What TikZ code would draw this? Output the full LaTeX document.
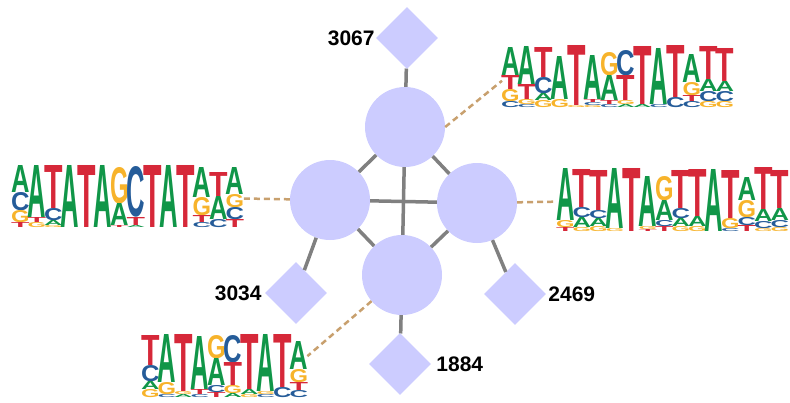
\documentclass[tikz,border=0pt]{standalone}
\usepackage{fontspec}
\setmainfont{Liberation Sans}
\usetikzlibrary{shapes.geometric,positioning}
\definecolor{ntA}{HTML}{109648}
\definecolor{ntC}{HTML}{255C99}
\definecolor{ntG}{HTML}{F7B32B}
\definecolor{ntT}{HTML}{D62839}
\definecolor{motif}{HTML}{CCCCFF}
\definecolor{link}{RGB}{200,160,110}
\newlength{\colw}
\setlength{\colw}{16.5pt}
% one letter of a logo column: letter, height
\newcommand{\nt}[2]{\hbox to \colw{\hss\resizebox{1.12\colw}{#2pt}{\textcolor{nt#1}{\bfseries #1}}\hss}}
\newcommand{\lcol}[1]{\vbox{\offinterlineskip #1}}

\tikzset{
  motifnode/.style={circle, fill=motif, minimum size=80pt, inner sep=0pt},
  sitenode/.style={diamond, fill=motif, minimum width=62pt, minimum height=62pt, inner sep=0pt},
  lbl/.style={font=\fontsize{21}{21}\selectfont\bfseries, inner sep=0pt},
  logo/.style={inner sep=0pt, anchor=south west},
  edge/.style={draw=gray, line width=3.5pt},
  link/.style={draw=link, line width=2.5pt, dash pattern=on 6pt off 4pt}
}

\begin{document}
\begin{tikzpicture}[x=1pt, y=-1pt]
\useasboundingbox (0,0) rectangle (790,402);

% motifs and sites
\node[motifnode] (ctop) at (405,127) {};
\node[motifnode] (cleft) at (330,200) {};
\node[motifnode] (cright) at (477,203) {};
\node[motifnode] (cbot) at (402,275) {};
\node[sitenode] (d3067) at (407,38) {};
\node[sitenode] (d3034) at (296,293) {};
\node[sitenode] (d2469) at (515,294) {};
\node[sitenode] (d1884) at (400,364) {};
\node[lbl, left=1pt of d3067] (t3067) {3067};
\node[lbl, left=3pt of d3034] (t3034) {3034};
\node[lbl, right=2pt of d2469] (t2469) {2469};
\node[lbl, right=5pt of d1884] (t1884) {1884};

% logos
\node[logo] (lgTR) at (502,108) {%
\lcol{\nt{A}{28}\nt{T}{14}\nt{G}{12}\nt{C}{6}}%
\lcol{\nt{A}{38}\nt{T}{15}\nt{G}{5}\nt{C}{3}}%
\lcol{\nt{T}{30}\nt{C}{16}\nt{A}{7}\nt{G}{7}}%
\lcol{\nt{A}{43}\nt{G}{8}}%
\lcol{\nt{T}{60}\nt{G}{2}}%
\lcol{\nt{A}{44}\nt{T}{3}\nt{C}{3}\nt{G}{2}}%
\lcol{\nt{G}{23}\nt{A}{25}\nt{T}{4}\nt{C}{3}}%
\lcol{\nt{C}{25}\nt{T}{25}\nt{G}{4}\nt{A}{3}}%
\lcol{\nt{T}{58}\nt{A}{3}}%
\lcol{\nt{A}{56}\nt{C}{3}}%
\lcol{\nt{T}{52}\nt{C}{10}}%
\lcol{\nt{A}{28}\nt{G}{13}\nt{T}{6}\nt{C}{6}}%
\lcol{\nt{T}{33}\nt{A}{12}\nt{C}{10}\nt{G}{6}}%
\lcol{\nt{T}{33}\nt{A}{10}\nt{C}{10}\nt{G}{6}}%
};
\node[logo] (lgL) at (12,228) {%
\lcol{\nt{A}{27}\nt{C}{18}\nt{G}{12}\nt{T}{5}}%
\lcol{\nt{A}{52}\nt{T}{5}\nt{G}{5}}%
\lcol{\nt{T}{43}\nt{C}{12}\nt{A}{5}\nt{G}{2}}%
\lcol{\nt{A}{62}}%
\lcol{\nt{T}{62}}%
\lcol{\nt{A}{62}}%
\lcol{\nt{G}{36}\nt{A}{22}\nt{T}{2}}%
\lcol{\nt{C}{50}\nt{T}{8}\nt{A}{2}}%
\lcol{\nt{T}{62}}%
\lcol{\nt{A}{62}}%
\lcol{\nt{T}{62}}%
\lcol{\nt{A}{30}\nt{G}{18}\nt{T}{7}\nt{C}{5}}%
\lcol{\nt{T}{24}\nt{A}{23}\nt{C}{8}}%
\lcol{\nt{A}{27}\nt{G}{13}\nt{C}{12}\nt{T}{8}}%
};
\node[logo] (lgR) at (557,232) {%
\lcol{\nt{A}{52}\nt{G}{7}\nt{T}{4}}%
\lcol{\nt{T}{38}\nt{C}{10}\nt{A}{10}\nt{G}{4}}%
\lcol{\nt{T}{40}\nt{C}{8}\nt{A}{8}\nt{G}{5}}%
\lcol{\nt{A}{60}\nt{G}{3}}%
\lcol{\nt{T}{63}}%
\lcol{\nt{A}{50}\nt{G}{3}\nt{T}{2}}%
\lcol{\nt{G}{24}\nt{A}{20}\nt{C}{6}\nt{T}{5}}%
\lcol{\nt{T}{38}\nt{C}{10}\nt{A}{8}\nt{G}{5}}%
\lcol{\nt{T}{47}\nt{A}{10}\nt{G}{5}}%
\lcol{\nt{A}{62}}%
\lcol{\nt{T}{48}\nt{G}{10}\nt{C}{3}}%
\lcol{\nt{A}{23}\nt{G}{17}\nt{C}{8}\nt{T}{6}}%
\lcol{\nt{T}{42}\nt{A}{12}\nt{C}{7}\nt{G}{3}}%
\lcol{\nt{T}{38}\nt{A}{12}\nt{C}{7}\nt{G}{4}}%
};
\node[logo] (lgB) at (142,398) {%
\lcol{\nt{T}{30}\nt{C}{16}\nt{A}{8}\nt{G}{8}}%
\lcol{\nt{A}{48}\nt{G}{12}\nt{C}{3}}%
\lcol{\nt{T}{57}\nt{G}{3}\nt{A}{3}}%
\lcol{\nt{A}{53}\nt{T}{5}\nt{C}{3}}%
\lcol{\nt{G}{23}\nt{A}{27}\nt{C}{7}\nt{T}{5}}%
\lcol{\nt{C}{27}\nt{T}{23}\nt{G}{8}\nt{A}{4}}%
\lcol{\nt{T}{55}\nt{A}{5}\nt{G}{3}}%
\lcol{\nt{A}{57}\nt{G}{3}\nt{C}{3}}%
\lcol{\nt{T}{53}\nt{C}{10}}%
\lcol{\nt{A}{28}\nt{G}{13}\nt{T}{8}\nt{C}{7}}%
};

% edges
\draw[edge] (d3067) -- (ctop);
\draw[edge] (ctop) -- (cleft);
\draw[edge] (ctop) -- (cright);
\draw[edge] (ctop) -- (cbot);
\draw[edge] (cleft) -- (cright);
\draw[edge] (cleft) -- (cbot);
\draw[edge] (cright) -- (cbot);
\draw[edge] (cleft) -- (d3034);
\draw[edge] (cright) -- (d2469);
\draw[edge] (cbot) -- (d1884);

% links to logos
\draw[link] (ctop.east) -- ([yshift=-4pt]lgTR.west);
\draw[link] (cleft) -- (lgL);
\draw[link] (cright) -- (lgR);
\draw[link] (cbot) -- ([yshift=10pt]lgB.east);
\end{tikzpicture}
\end{document}
